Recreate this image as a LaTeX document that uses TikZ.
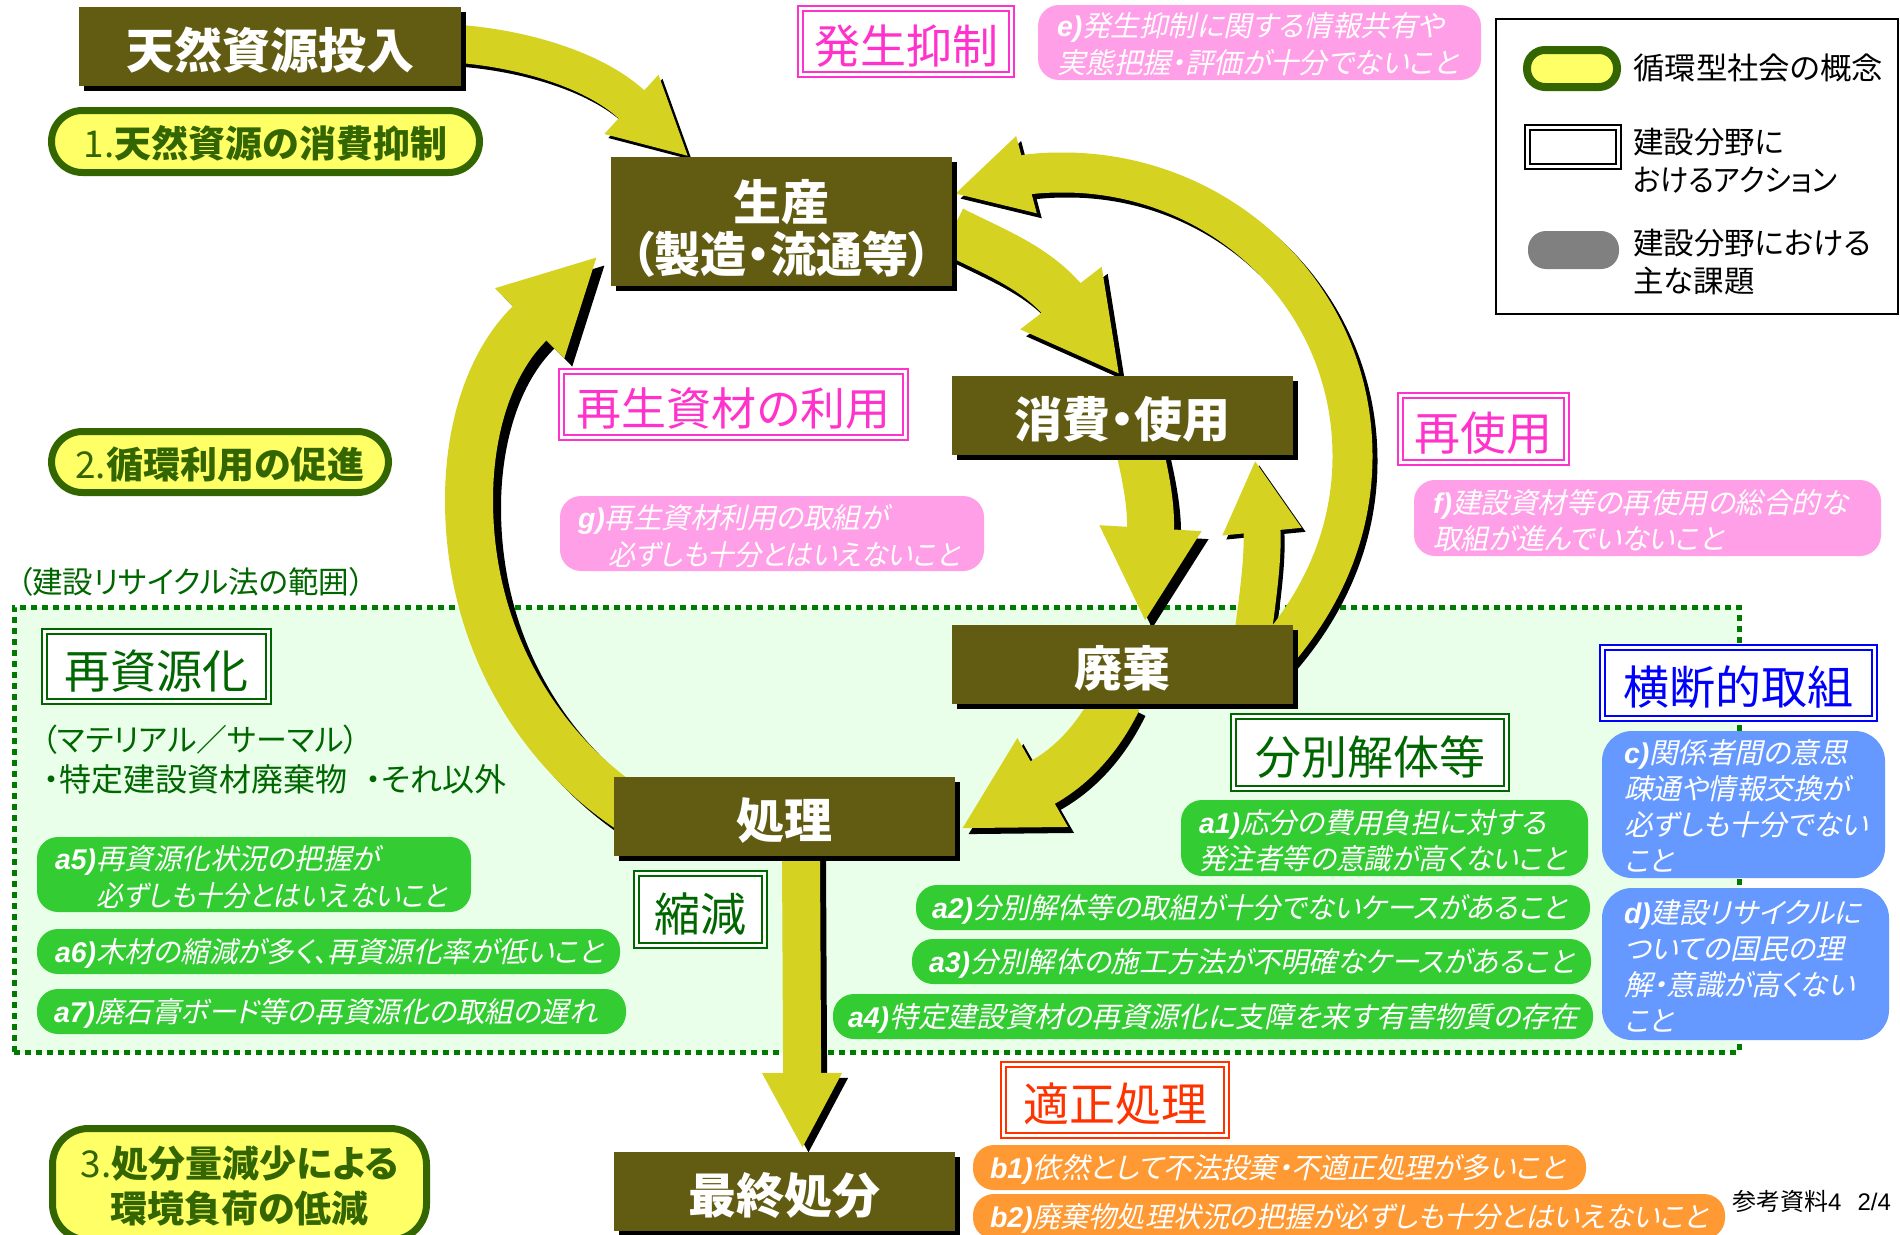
\documentclass[tikz,border=0pt]{standalone}
\usepackage{fontspec}
\usepackage{graphicx}
\usetikzlibrary{arrows.meta}
\setmainfont{Noto Sans CJK JP}[RawFeature=+palt]
\newfontfamily\jpi{Noto Sans CJK JP}[FakeSlant=0.22,RawFeature=+palt]
\newfontfamily\arl{Liberation Sans}
\newcommand\fs[2]{\fontsize{#1}{#2}\selectfont}
\definecolor{boxc}{HTML}{625C12}
\definecolor{flowc}{HTML}{D5D222}
\definecolor{zonec}{HTML}{E9FFE9}
\definecolor{zoned}{HTML}{007A00}
\definecolor{gr}{HTML}{006600}
\definecolor{conc}{HTML}{336600}
\definecolor{conf}{HTML}{FFFF66}
\definecolor{pk}{HTML}{FF33CC}
\definecolor{pkf}{HTML}{FF9FE7}
\definecolor{gnf}{HTML}{33CC33}
\definecolor{blf}{HTML}{6699FF}
\definecolor{orf}{HTML}{FF9933}
\definecolor{rd}{HTML}{FF3300}
\pgfdeclarelayer{zone}
\pgfdeclarelayer{flow}
\pgfsetlayers{zone,flow,main}
\tikzset{
  dn/.style={execute at begin node={\rule{0pt}{\dimexpr1em+#1pt\relax}}},
  wide/.code={\tikzset{text width=\ww pt,align=center}},
  mainbox/.style={fill=boxc,text=white,font=\bfseries\fs{48}{54},wide,dn=1.5},
  concept/.style={draw=conc,line width=7pt,fill=conf,text=conc,font=\fs{37}{45},wide,dn=-1,rounded corners=#1},
  dbl/.style={draw=#1,double=white,double distance=3pt,line width=2pt,fill=white,text=#1,font=\fs{46}{52},wide,dn=1.7},
  pill/.style={fill=#1,text=white,rounded corners=21pt,font=\jpi\fs{28.5}{36.5},dn=-1.5},
  tx/.code={\pgfmathsetmacro\tw{\ww-2*#1}\tikzset{inner xsep=#1pt,text width=\tw pt,align=left}},
  plain/.style={anchor=west,inner sep=0pt},
  flowline/.style={line cap=butt,line join=round}
}
\newcommand\bx[7]{\pgfmathsetmacro\cxx{(#3+#5)/2}\pgfmathsetmacro\cyy{(#4+#6)/2}\pgfmathsetmacro\ww{#5-#3}\pgfmathsetmacro\hh{#6-#4}%
  \node[inner sep=0pt,outer sep=0pt,minimum width=\ww pt,minimum height=\hh pt,#2] (#1) at (\cxx,\cyy) {#7};}
\newcommand\mbx[7]{\bx{#1s}{fill=black}{\the\numexpr#3+5\relax}{\the\numexpr#4+5\relax}{\the\numexpr#5+5\relax}{\the\numexpr#6+5\relax}{}\bx{#1}{mainbox,#2}{#3}{#4}{#5}{#6}{#7}}
\newcommand\flow[6]{\begin{pgfonlayer}{flow}
  \draw[flowline,black,line width=#3pt,-{Triangle[length=#4pt,width=#5pt]},transform canvas={shift={(#1pt,-#2pt)}}] #6;
  \draw[flowline,flowc,line width=#3pt,-{Triangle[length=#4pt,width=#5pt]}] #6;
\end{pgfonlayer}}
\newcommand\lb[1]{{\arl\bfseries\itshape #1}}
\newcommand\sq[2]{\smash{\scalebox{#1}[1]{#2}}}
\begin{document}
\begin{tikzpicture}[x=1pt,y=-1pt]
\clip (0,0) rectangle (1900,1234);
\useasboundingbox (0,0) rectangle (1900,1234);
\begin{pgfonlayer}{zone}
\fill[white] (0,0) rectangle (1900,1234);
\bx{zone}{fill=zonec,draw=zoned,line width=5pt,dash pattern=on 6pt off 5pt}{14}{607}{1739}{1052}{}
\end{pgfonlayer}
% main boxes
\mbx{inp}{}{79}{7}{461}{86}{天然資源投入}
\mbx{sei}{}{611}{157}{952}{286}{生産\\[-2pt]\sq{0.96}{（製造・流通等）}}
\mbx{con}{}{952}{376}{1293}{455}{消費・使用}
\mbx{dis}{}{952}{625}{1293}{704}{廃棄}
\mbx{shi}{}{614}{777}{955}{856}{処理}
\mbx{fin}{}{614}{1152}{955}{1231}{最終処分}
% flows
\flow{4}{4}{38}{78}{74}{([yshift=2.5pt]inp.east) .. controls (530,50) and (596,72) .. (631,104) -- ([xshift=78pt]sei.north west)}
\flow{6}{7}{49}{97}{95}{([yshift=-9pt]sei.east) .. controls (990,250) and (1031,265) .. (1060.5,297.5) -- ([xshift=-2.5pt,yshift=1pt]con.north)}
\flow{7}{8}{47}{94}{95}{([xshift=17.5pt,yshift=3pt]con.south) .. controls (1146,478) and (1151,505) .. (1150.5,527.5) -- ([xshift=22.5pt,yshift=3pt]dis.north)}
\flow{4}{4}{37}{72}{74}{([xshift=131pt,yshift=-5pt]dis.north) .. controls (1258,595) and (1263,560) .. (1262,532) -- ([xshift=-38pt,yshift=-5pt]con.south east)}
\flow{5}{5}{40}{75}{74}{([xshift=-23pt,yshift=5pt]dis.east) .. controls (1328,595) and (1352.5,525) .. (1352.5,456) .. controls (1352.5,295) and (1220,172.5) .. (1063,172.5) .. controls (1050,172.5) and (1039,173) .. (1027,174.5) -- ([xshift=2pt,yshift=27.5pt]sei.east)}
\flow{6}{6}{49}{94}{95}{([xshift=-5pt,yshift=5pt]dis.south) .. controls (1100,735) and (1075,764) .. (1043.5,782) -- ([xshift=6pt,yshift=-12.5pt]shi.east)}
\flow{8}{8}{48}{96}{91}{([xshift=16pt,yshift=7pt]shi.west) .. controls (540,750) and (469,640) .. (469,500) .. controls (469,430) and (489,363) .. (530,323) -- ([xshift=-13pt,yshift=-34.5pt]sei.west)}
\flow{6}{5}{38}{76}{74}{([xshift=16.5pt]shi.south) -- ([xshift=18pt,yshift=3pt]fin.north)}
% concept pills
\bx{p1}{concept=31pt}{51.5}{110.5}{479.5}{172.5}{1.\textbf{天然資源の消費抑制}}
\bx{p2}{concept=31pt}{51.5}{431.5}{388.5}{492.5}{2.\textbf{循環利用の促進}}
\bx{p3}{concept=36pt}{52.5}{1128.5}{426.5}{1240}{3.\textbf{処分量減少による}\\\textbf{環境負荷の低減}}
% headings
\bx{h1}{dbl=pk}{800.5}{8.5}{1011.5}{74.5}{発生抑制}
\bx{h2}{dbl=pk,font=\fs{45}{52}}{561.5}{371.5}{905.5}{437.5}{再生資材の利用}
\bx{h3}{dbl=pk}{1400.5}{395.5}{1566.5}{462.5}{再使用}
\bx{h4}{dbl=gr}{44.5}{631}{268.5}{701.5}{再資源化}
\bx{h5}{dbl=gr}{636.5}{873.5}{764}{945.5}{縮減}
\bx{h6}{dbl=gr}{1233.5}{716.5}{1506.5}{788}{分別解体等}
\bx{h7}{dbl=blue}{1602.5}{647.5}{1874}{718.5}{横断的取組}
\bx{h8}{dbl=rd}{1003.5}{1064.5}{1226.5}{1135.5}{適正処理}
% pink
\bx{e}{pill=pkf,tx=19}{1038}{5}{1481}{80}{\lb{e)}発生抑制に関する情報共有や\\実態把握・評価が十分でないこと}
\bx{g}{pill=pkf,tx=18,dn=-3}{560}{496}{984}{571}{\lb{g)}再生資材利用の取組が\\\hspace*{30pt}\sq{0.94}{必ずしも十分とはいえないこと}}
\bx{f}{pill=pkf,tx=19,dn=-3}{1414}{480}{1881}{556}{\lb{f)}建設資材等の再使用の総合的な\\\sq{0.98}{取組が進んでいないこと}}
% green
\bx{a5}{pill=gnf,tx=18}{37}{837}{471}{912}{\lb{a5)}再資源化状況の把握が\\\hspace*{41pt}\sq{0.94}{必ずしも十分とはいえないこと}}
\bx{a6}{pill=gnf,tx=18}{37}{929}{620}{974}{\lb{a6)}木材の縮減が多く、再資源化率が低いこと}
\bx{a7}{pill=gnf,tx=17}{37}{989}{626}{1034}{\lb{a7)}廃石膏ボード等の再資源化の取組の遅れ}
\bx{a1}{pill=gnf,tx=18}{1181}{800}{1588}{876}{\lb{a1)}応分の費用負担に対する\\\sq{0.97}{発注者等の意識が高くないこと}}
\bx{a2}{pill=gnf,tx=16}{916}{885}{1590}{930}{\lb{a2)}\sq{0.985}{分別解体等の取組が十分でないケースがあること}}
\bx{a3}{pill=gnf,tx=17}{912}{939}{1591}{984}{\lb{a3)}\sq{0.995}{分別解体の施工方法が不明確なケースがあること}}
\bx{a4}{pill=gnf,tx=15}{833}{994}{1593}{1039}{\lb{a4)}\sq{1.02}{特定建設資材の再資源化に支障を来す有害物質の存在}}
% blue
\bx{c}{pill=blf,tx=22,rounded corners=30pt,font=\jpi\fs{28.5}{36},dn=-2}{1602}{731}{1885}{878}{\lb{c)}関係者間の意思\\疎通や情報交換が\\必ずしも十分でない\\こと}
\bx{d}{pill=blf,tx=22,rounded corners=30pt,font=\jpi\fs{28.5}{36},dn=-2}{1602}{888}{1889}{1040}{\lb{d)}建設リサイクルに\\ついての国民の理\\解・意識が高くない\\こと}
% orange
\bx{b1}{pill=orf,tx=17}{973}{1145}{1586}{1190}{\lb{b1)}\sq{0.995}{依然として不法投棄・不適正処理が多いこと}}
\bx{b2}{pill=orf,tx=17}{973}{1194}{1725}{1239}{\lb{b2)}\sq{0.985}{廃棄物処理状況の把握が必ずしも十分とはいえないこと}}
% plain texts
\node[plain,text=gr,font=\fs{30.5}{34}] (t1) at (17,582) {（建設リサイクル法の範囲）};
\node[plain,text=gr,font=\fs{31}{34}] (t2) at (42,740) {（マテリアル／サーマル）};
\node[plain,text=gr,font=\fs{32}{34}] (t3) at (43,779) {・特定建設資材廃棄物\hspace{18pt}・それ以外};
\node[plain,font=\fs{24}{26}] (t4) at (1732,1201) {参考資料{\arl 4\hspace{16pt}2/4}};
% legend
\bx{leg}{draw=black,line width=2pt,fill=white}{1496}{19}{1898}{314}{}
\bx{l1}{draw=conc,line width=8pt,fill=conf,rounded corners=18pt}{1527}{50}{1617}{87}{}
\bx{l2}{draw=black,double=white,double distance=3pt,line width=2pt,fill=white}{1527.5}{127.5}{1618.5}{166.5}{}
\bx{l3}{fill=black!50,rounded corners=18pt}{1528}{231}{1619}{269}{}
\node[plain,font=\fs{30.5}{38},align=left] (lt1) at (1633,68) {\scalebox{1.03}[1]{循環型社会の概念}};
\node[plain,font=\fs{30.5}{38},align=left] (lt2) at (1633,160) {建設分野に\\\sq{0.935}{おけるアクション}};
\node[plain,font=\fs{30.5}{38},align=left] (lt3) at (1633,262) {建設分野における\\主な課題};
\end{tikzpicture}
\end{document}
